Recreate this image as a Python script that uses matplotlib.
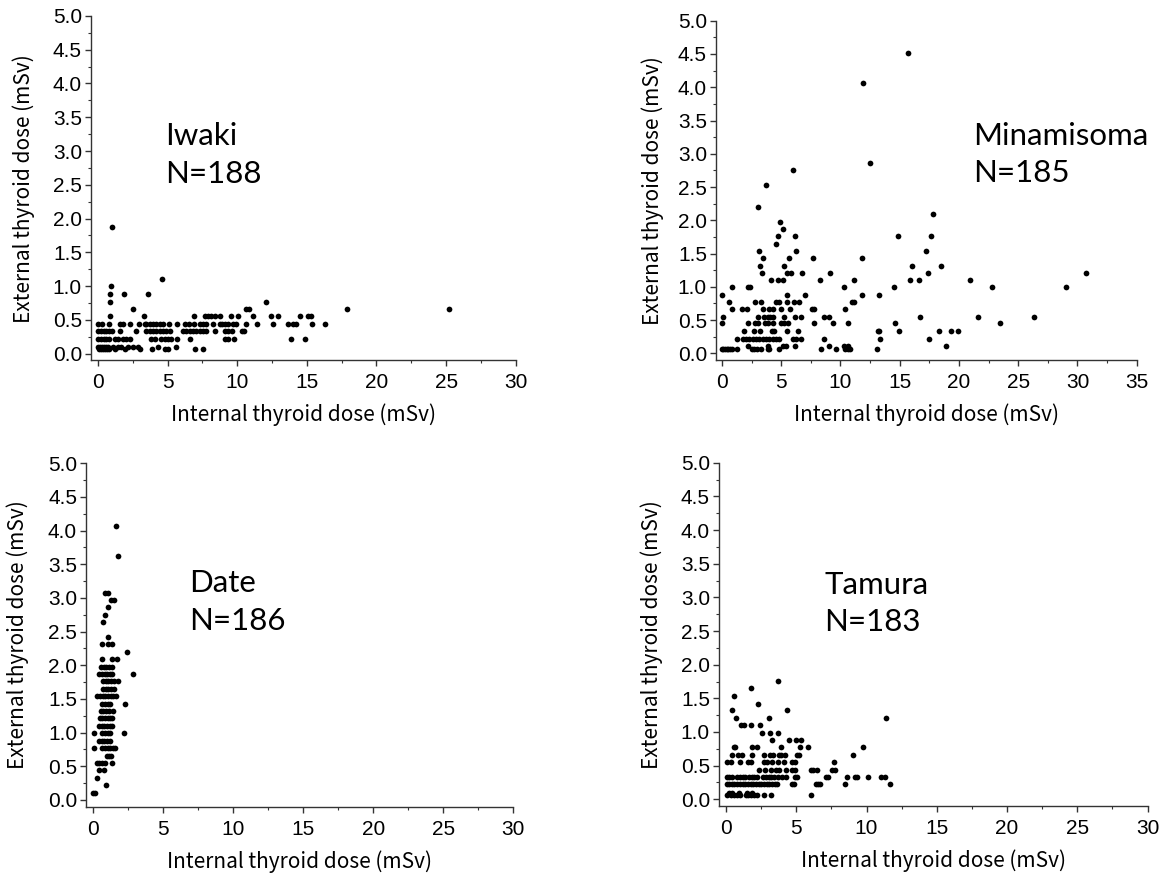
import matplotlib
matplotlib.use('Agg')
import matplotlib.pyplot as plt
from matplotlib.ticker import MultipleLocator

plt.rcParams['font.family'] = ['Liberation Sans', 'DejaVu Sans']

# each row: (external dose, [internal doses at that external dose])
iwaki_rows = [
    (1.87, [1.0]),
    (1.10, [4.62]),
    (1.00, [0.96]),
    (0.88, [0.89, 1.87, 3.59]),
    (0.77, [0.89, 12.1]),
    (0.66, [2.51, 10.65, 10.84, 17.9, 25.2]),
    (0.55, [0.89, 3.3, 6.89, 7.66, 7.89, 8.13, 8.37, 8.73, 9.57, 10.05, 11.12,
            12.39, 12.9, 14.5, 15.1, 15.3]),
    (0.44, [0, 0.29, 0.79, 1.6, 1.8, 2.27, 2.92, 3.35, 3.47, 3.71, 3.95, 4.19,
            4.43, 4.67, 5.07, 5.67, 6.27, 6.53, 6.91, 7.3, 7.54, 7.78, 8.25,
            8.73, 8.92, 9.09, 9.33, 9.69, 9.93, 10.65, 11.4, 12.56, 13.66, 14.0,
            14.23, 15.35, 16.3]),
    (0.33, [0, 0.2, 0.4, 0.6, 0.8, 1.0, 1.6, 2.7, 3.47, 3.71, 3.95, 4.19, 4.43,
            4.67, 4.9, 5.14, 6.1, 6.34, 6.58, 6.82, 7.06, 7.3, 7.54, 7.78, 8.37,
            9.09, 9.33, 9.64, 10.33, 10.48]),
    (0.22, [0, 0.2, 0.4, 0.6, 0.8, 1.2, 1.44, 1.79, 2.03, 2.27, 3.83, 4.07, 4.55,
            4.78, 5.02, 5.26, 5.67, 6.58, 9.09, 9.33, 9.74, 13.85, 14.9]),
    (0.10, [0, 0.15, 0.3, 0.45, 0.6, 0.75, 1.08, 1.44, 1.67, 2.15, 2.51, 2.87,
            4.33, 5.62]),
    (0.06, [0.05, 0.2, 0.35, 0.5, 0.65, 0.8, 1.2, 1.91, 2.99, 3.9, 4.78, 5.02,
            6.94, 7.54]),
]

minamisoma_rows = [
    (4.51, [15.7]),
    (4.07, [11.9]),
    (2.86, [12.5]),
    (2.75, [6.03]),
    (2.53, [3.72]),
    (2.20, [3.07]),
    (2.09, [17.8]),
    (1.98, [4.87]),
    (1.87, [5.18]),
    (1.76, [4.73, 6.14, 14.88, 17.6]),
    (1.65, [4.54]),
    (1.54, [3.1, 6.26, 17.24]),
    (1.43, [3.44, 5.69, 7.66, 11.8]),
    (1.32, [3.18, 5.21, 16.0, 18.5]),
    (1.21, [3.38, 5.47, 5.83, 6.79, 9.1, 17.4, 30.7]),
    (1.10, [4.11, 4.73, 5.18, 8.31, 11.13, 15.84, 16.6, 20.9]),
    (0.99, [0.85, 2.17, 2.4, 10.3, 14.5, 22.8, 29.05]),
    (0.88, [0, 5.47, 7.04, 11.83, 13.24]),
    (0.77, [0.56, 2.79, 3.27, 4.59, 4.85, 5.47, 6.09, 6.54, 11.0, 11.13]),
    (0.66, [0.87, 1.69, 2.11, 3.44, 4.0, 4.31, 5.02, 5.78, 7.58, 7.78, 10.4]),
    (0.55, [0.11, 3.07, 3.52, 3.86, 4.09, 4.34, 5.27, 6.14, 6.68, 8.59, 9.0,
            16.7, 21.6, 26.3]),
    (0.45, [0, 2.23, 2.82, 3.07, 3.63, 3.92, 4.34, 4.99, 5.21, 5.55, 7.8, 9.38,
            10.62, 14.6, 23.5]),
    (0.34, [1.83, 2.7, 3.18, 4.23, 4.4, 5.47, 6.42, 13.13, 13.24, 14.96, 18.3,
            19.3, 19.9]),
    (0.22, [1.24, 1.75, 2.03, 2.31, 2.6, 2.87, 3.16, 3.44, 3.72, 4.0, 4.28, 4.56,
            4.85, 5.97, 6.26, 6.65, 8.65, 13.3, 17.5]),
    (0.11, [2.2, 3.86, 5.13, 5.41, 6.17, 9.0, 10.26, 10.65, 18.94]),
    (0.06, [0, 0.11, 0.25, 0.39, 0.54, 0.68, 0.87, 1.24, 2.54, 2.73, 2.93, 3.3,
            3.86, 4.0, 4.85, 8.37, 9.66, 10.4, 10.65, 10.82, 13.1]),
]

date_rows = [
    (4.07, [1.67]),
    (3.63, [1.79]),
    (3.08, [0.83, 1.1]),
    (2.97, [1.29, 1.52]),
    (2.86, [1.07]),
    (2.75, [0.88]),
    (2.64, [0.74]),
    (2.42, [1.07]),
    (2.31, [0.62, 1.05, 1.33]),
    (2.20, [2.4]),
    (2.09, [0.67, 1.33, 1.74]),
    (1.98, [0.57, 0.76, 0.95, 1.14, 1.33]),
    (1.87, [0.45, 0.64, 0.83, 1.02, 1.21, 1.38, 2.86]),
    (1.76, [0.71, 0.9, 1.1, 1.29, 1.48, 1.81]),
    (1.65, [0.71, 0.9, 1.1, 1.29, 1.48]),
    (1.54, [0.31, 0.5, 0.69, 0.88, 1.07, 1.26, 1.45, 1.64]),
    (1.43, [0.67, 0.86, 1.05, 1.24, 2.26]),
    (1.32, [0.55, 0.74, 0.93, 1.12, 1.45]),
    (1.21, [0.48, 0.67, 0.86, 1.05, 1.24, 1.38]),
    (1.10, [0.43, 0.62, 0.81, 1.0, 1.19, 1.38]),
    (0.99, [0.1, 0.67, 0.86, 1.05, 1.24, 2.24]),
    (0.88, [0.43, 0.62, 0.81, 1.0, 1.19]),
    (0.77, [0.07, 0.67, 0.86, 1.05, 1.24, 1.43, 1.57]),
    (0.66, [0.98, 1.14, 1.29]),
    (0.55, [0.26, 0.45, 0.64, 0.83, 1.33]),
    (0.44, [0.43, 0.79]),
    (0.33, [0.26]),
    (0.22, [0.93]),
    (0.11, [0.0, 0.12]),
]

tamura_rows = [
    (1.76, [3.72]),
    (1.65, [1.8]),
    (1.53, [0.57]),
    (1.42, [2.25]),
    (1.32, [0.43, 4.34]),
    (1.21, [0.73, 3.08, 11.4]),
    (1.10, [1.04, 1.28, 1.75, 2.42]),
    (0.99, [2.54, 3.13, 3.72]),
    (0.88, [3.27, 4.45, 5.0, 5.31]),
    (0.77, [0.59, 0.66, 1.87, 2.18, 3.89, 5.26, 5.83, 9.72]),
    (0.66, [0.4, 0.88, 1.14, 1.87, 2.7, 3.1, 3.32, 3.77, 3.91, 4.19, 5.07, 5.21,
            9.03]),
    (0.55, [0.07, 0.33, 0.97, 1.56, 1.75, 2.7, 2.94, 3.29, 3.7, 4.12, 4.72, 4.91,
            7.68]),
    (0.44, [2.37, 2.77, 3.18, 3.53, 3.77, 4.29, 4.72, 4.93, 6.02, 6.21, 6.45,
            7.56, 7.75]),
    (0.33, [0.07, 0.24, 0.4, 0.81, 1.0, 1.18, 1.37, 1.64, 1.82, 2.01, 2.2, 2.65,
            2.84, 3.03, 3.22, 3.41, 3.7, 4.0, 4.27, 4.91, 5.07, 7.11, 7.27, 8.58,
            9.15, 9.34, 10.1, 11.04, 11.28]),
    (0.22, [0.07, 0.24, 0.4, 0.57, 0.81, 1.0, 1.18, 1.37, 1.56, 1.75, 1.94, 2.13,
            2.32, 2.51, 2.7, 2.89, 3.08, 3.27, 3.46, 3.65, 4.72, 4.83, 6.37,
            6.54, 6.66, 8.5, 11.66]),
    (0.10, [0.2, 0.45, 0.9, 1.5, 1.85]),
    (0.06, [0.07, 0.33, 0.57, 0.76, 1.0, 1.4, 1.56, 1.75, 1.99, 2.23, 2.7, 3.18,
            6.02]),
]

panels = [
    # rows, name, n, xmax, axes rect, text position, ylabel x
    (iwaki_rows, 'Iwaki', 188, 30, [0.0784, 0.5878, 0.3658, 0.3939], (4.8, 2.53), -0.132),
    (minamisoma_rows, 'Minamisoma', 185, 35, [0.6167, 0.5881, 0.3624, 0.3882], (21.2, 2.57), -0.124),
    (date_rows, 'Date', 186, 30, [0.0741, 0.0770, 0.3680, 0.3929], (6.84, 2.53), -0.133),
    (tamura_rows, 'Tamura', 183, 30, [0.6193, 0.0778, 0.3691, 0.3927], (7.0, 2.50), -0.130),
]

label_font = ['Noto Sans CJK JP', 'DejaVu Sans']

fig = plt.figure(figsize=(11.61, 8.74), dpi=100)

for rows, name, n, xmax, rect, tpos, ylab_x in panels:
    ax = fig.add_axes(rect)
    xs = []
    ys = []
    for ext, ints in rows:
        for v in ints:
            xs.append(v)
            ys.append(ext)
    ax.scatter(xs, ys, s=17, c='black', linewidths=0, zorder=3)

    ax.set_xlim(-0.5, xmax)
    ax.set_ylim(-0.1, 5.0)
    ax.xaxis.set_major_locator(MultipleLocator(5))
    ax.xaxis.set_minor_locator(MultipleLocator(2.5))
    ax.yaxis.set_major_locator(MultipleLocator(0.5))
    ax.yaxis.set_minor_locator(MultipleLocator(0.25))
    ax.yaxis.set_major_formatter(plt.FormatStrFormatter('%.1f'))
    for side in ['top', 'right']:
        ax.spines[side].set_visible(False)
    for side in ['left', 'bottom']:
        ax.spines[side].set_linewidth(1.0)
        ax.spines[side].set_color('#333333')
    ax.tick_params(which='major', direction='out', length=4.5, width=1.0,
                   color='#333333', labelsize=15)
    ax.tick_params(axis='x', which='major', pad=5)
    ax.tick_params(axis='y', which='major', pad=2)
    ax.tick_params(which='minor', direction='out', length=2.2, width=0.8,
                   color='#333333')

    ax.set_xlabel('Internal thyroid dose (mSv)', fontsize=15,
                  family=label_font, labelpad=8)
    ax.set_ylabel('External thyroid dose (mSv)', fontsize=15,
                  family=label_font)
    ax.yaxis.set_label_coords(ylab_x, 0.5)

    ax.text(tpos[0], tpos[1], name + '\nN=' + str(n), fontsize=22.5,
            family='Lato', va='baseline', ha='left', linespacing=1.41)

fig.savefig('out.png', dpi=100)
